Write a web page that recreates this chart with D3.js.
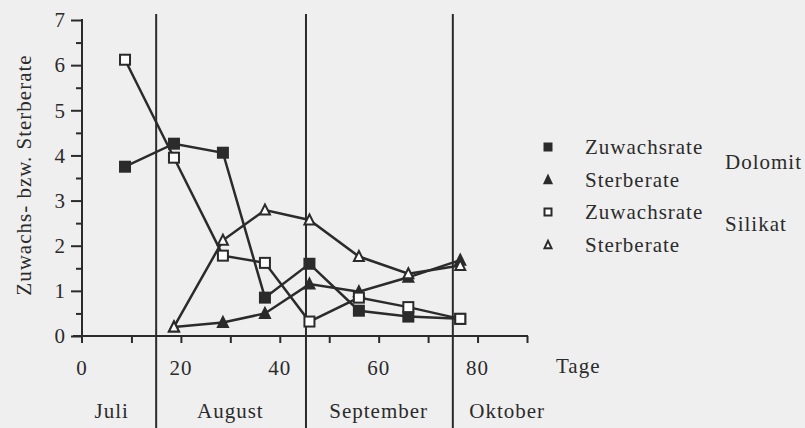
<!DOCTYPE html>
<html>
<head>
<meta charset="utf-8">
<script src="https://cdn.jsdelivr.net/npm/d3@7"></script>
<style>
  body { margin: 0; background: #efefef; }
  svg { display: block; }
</style>
</head>
<body>
<svg id="chart" width="805" height="428"></svg>
<script>
// Days after start (x) and rates (y)
const days = [8.7, 18.6, 28.5, 37, 46, 56, 66, 76.5];
const zuwachsDolomit = [3.75, 4.26, 4.06, 0.85, 1.6, 0.56, 0.43, 0.38];
const zuwachsSilikat = [6.12, 3.95, 1.78, 1.62, 0.32, 0.85, 0.64, 0.38];
const sterbeDays = [18.6, 28.5, 37, 46, 56, 66, 76.5];
const sterbeDolomit = [0.2, 0.3, 0.5, 1.15, 0.98, 1.3, 1.68];
const sterbeSilikat = [0.2, 2.12, 2.79, 2.57, 1.76, 1.38, 1.56];

const xTicks = [0, 20, 40, 60, 80];
const yTicks = [0, 1, 2, 3, 4, 5, 6, 7];
const monthBounds = [15, 45.3, 75];
const months = ['Juli', 'August', 'September', 'Oktober'];
const monthCenters = [6, 30, 60, 86];

const svg = d3.select('#chart');
const x = d3.scaleLinear().domain([0, 90]).range([82, 527]);
const y = d3.scaleLinear().domain([0, 7]).range([336, 20]);
const ink = '#2b2b2b';
const serif = "'Liberation Serif', 'DejaVu Serif', 'Times New Roman', serif";

// all text in the scanned-serif look
function label(sel) {
  return sel.attr('font-family', serif).attr('font-size', 21)
    .attr('letter-spacing', 1).attr('fill', ink);
}

// y axis with minor ticks
const yAxis = svg.append('g').attr('transform', `translate(${x(0)},0)`)
  .call(d3.axisLeft(y).tickValues(d3.range(0, 7.01, 0.5)).tickSize(6).tickFormat(''));
yAxis.select('.domain').remove();
yAxis.selectAll('line').attr('stroke', ink).attr('stroke-width', 2)
  .attr('x2', d => Number.isInteger(d) ? -11 : -6);
svg.append('line').attr('x1', x(0)).attr('x2', x(0)).attr('y1', y(7) - 1).attr('y2', y(0) + 7)
  .attr('stroke', ink).attr('stroke-width', 2);
svg.append('g').selectAll('text').data(yTicks).join('text')
  .attr('x', 66).attr('y', d => y(d)).attr('dy', '0.35em')
  .attr('text-anchor', 'end').call(label).text(d => d);

// x axis
const xAxis = svg.append('g').attr('transform', `translate(0,${y(0)})`)
  .call(d3.axisBottom(x).tickValues(d3.range(10, 91, 10)).tickSize(7).tickFormat(''));
xAxis.select('.domain').remove();
xAxis.selectAll('line').attr('stroke', ink).attr('stroke-width', 2);
svg.append('line').attr('x1', x(0) - 9).attr('x2', x(90) + 1).attr('y1', y(0)).attr('y2', y(0))
  .attr('stroke', ink).attr('stroke-width', 2);
svg.append('g').selectAll('text').data(xTicks).join('text')
  .attr('x', d => x(d)).attr('y', 368).attr('dy', '0.35em')
  .attr('text-anchor', 'middle').call(label).text(d => d);
svg.append('text').attr('x', 556).attr('y', 366).attr('dy', '0.35em')
  .call(label).text('Tage');

// y label
svg.append('text').attr('transform', 'translate(24,175) rotate(-90)')
  .attr('dy', '0.35em').attr('text-anchor', 'middle').call(label)
  .text('Zuwachs- bzw. Sterberate');

// month boundaries and labels
svg.append('g').selectAll('line').data(monthBounds).join('line')
  .attr('x1', d => x(d)).attr('x2', d => x(d)).attr('y1', 14).attr('y2', 428)
  .attr('stroke', ink).attr('stroke-width', 2);
svg.append('g').selectAll('text').data(months).join('text')
  .attr('x', (d, i) => x(monthCenters[i])).attr('y', 411).attr('dy', '0.35em')
  .attr('text-anchor', 'middle').call(label).text(d => d);

// series
const series = [
  { xs: days, ys: zuwachsDolomit, shape: 'square', filled: true },
  { xs: sterbeDays, ys: sterbeDolomit, shape: 'triangle', filled: true },
  { xs: days, ys: zuwachsSilikat, shape: 'square', filled: false },
  { xs: sterbeDays, ys: sterbeSilikat, shape: 'triangle', filled: false }
];

const line = d3.line().x(d => x(d[0])).y(d => y(d[1]));

function drawMarker(g, shape, filled, size) {
  if (shape === 'square') {
    g.append('rect').attr('x', -size / 2).attr('y', -size / 2)
      .attr('width', size).attr('height', size)
      .attr('fill', filled ? ink : '#fff').attr('stroke', ink).attr('stroke-width', 2);
  } else {
    const h = size * 0.9;
    g.append('path')
      .attr('d', `M0,${-h / 2 - 1}L${size / 2},${h / 2}L${-size / 2},${h / 2}Z`)
      .attr('fill', filled ? ink : '#fff').attr('stroke', ink).attr('stroke-width', 2);
  }
}

series.forEach(s => {
  const pts = s.xs.map((d, i) => [d, s.ys[i]]);
  svg.append('path').datum(pts).attr('d', line)
    .attr('fill', 'none').attr('stroke', ink).attr('stroke-width', 2.5);
});
series.forEach(s => {
  s.xs.forEach((d, i) => {
    const g = svg.append('g').attr('transform', `translate(${x(d)},${y(s.ys[i])})`);
    drawMarker(g, s.shape, s.filled, 10);
  });
});

// legend
const legendLabels = ['Zuwachsrate', 'Sterberate', 'Zuwachsrate', 'Sterberate'];
const legendRows = [147, 180, 212, 245];
series.forEach((s, i) => {
  const g = svg.append('g').attr('transform', `translate(548,${legendRows[i]})`);
  drawMarker(g, s.shape, s.filled, 7);
  svg.append('text').attr('x', 585).attr('y', legendRows[i]).attr('dy', '0.35em')
    .call(label).text(legendLabels[i]);
});
svg.append('text').attr('x', 725).attr('y', 162).attr('dy', '0.35em')
  .call(label).text('Dolomit');
svg.append('text').attr('x', 725).attr('y', 224).attr('dy', '0.35em')
  .call(label).text('Silikat');
</script>
</body>
</html>
